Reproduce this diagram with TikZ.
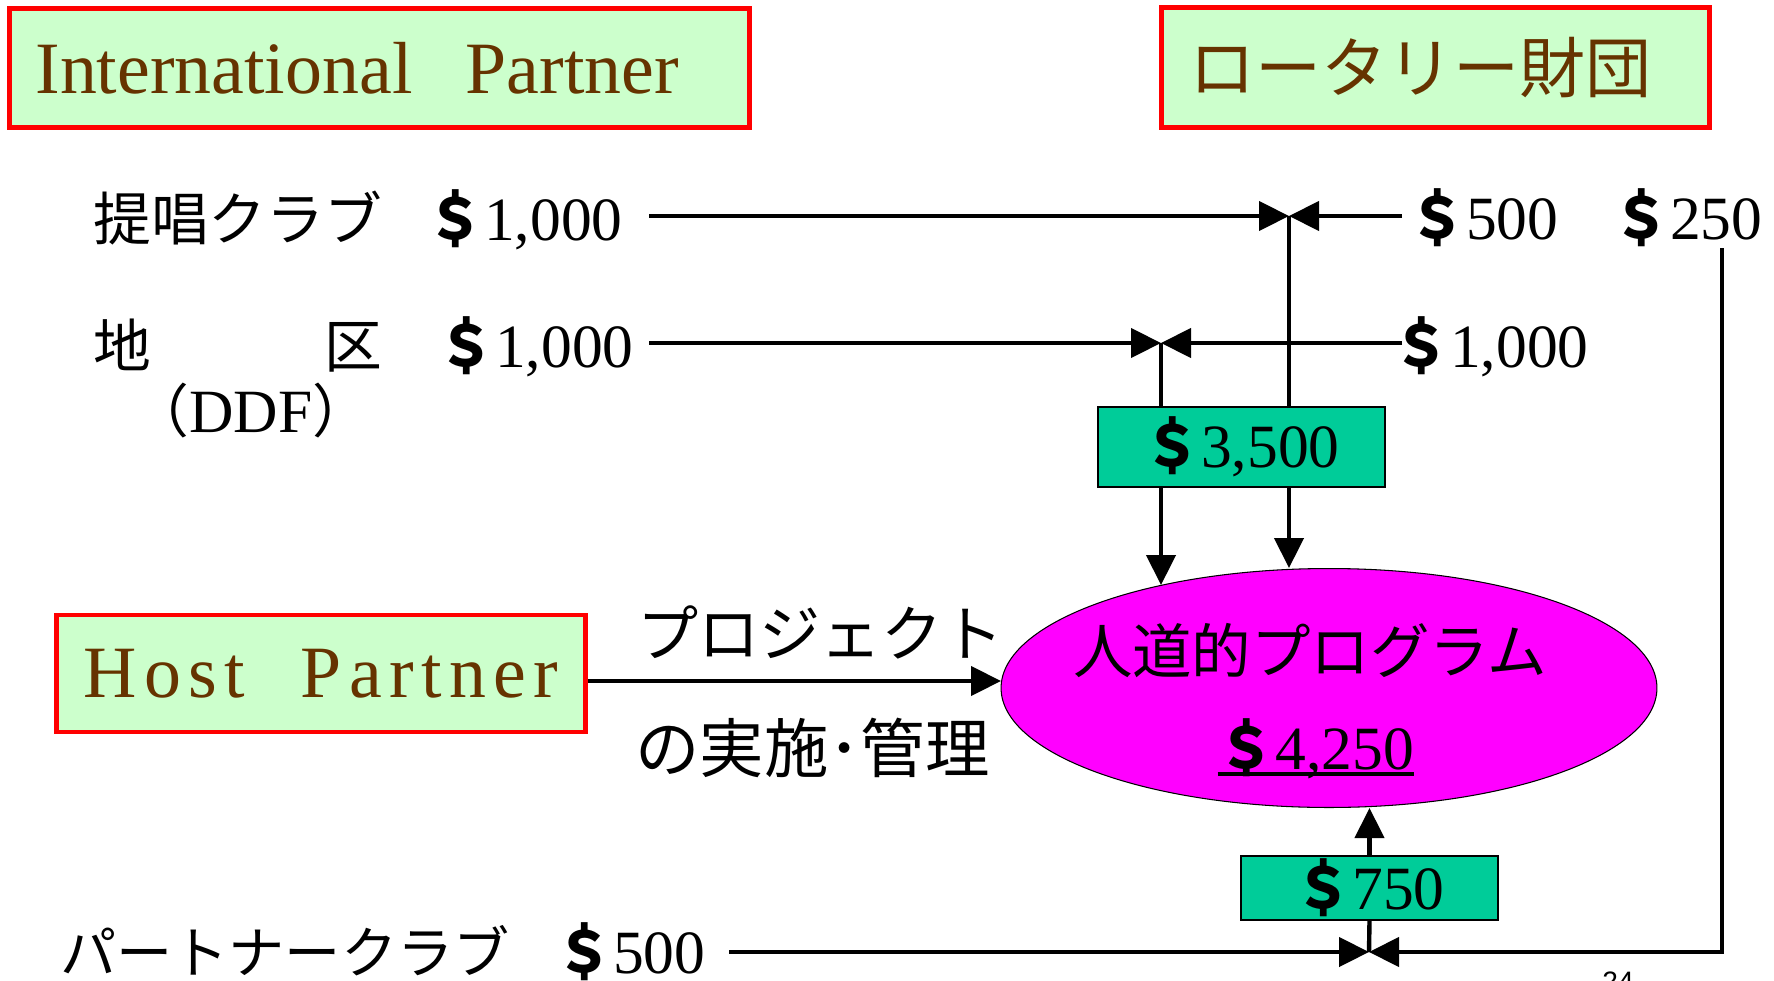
\documentclass[tikz,border=0pt]{standalone}
\usepackage{fontspec}
\setmainfont{Liberation Serif}
\newfontfamily\jp{Noto Sans CJK JP}[Scale=0.94]
\newfontfamily\pgsans{Liberation Sans}
\usepackage{tikz}
\usetikzlibrary{arrows.meta}
\usetikzlibrary{shapes,shapes.geometric}
\definecolor{partnergreen}{HTML}{CCFFCC}
\definecolor{partnerbrown}{HTML}{663300}
\definecolor{fundgreen}{HTML}{00CC99}
\definecolor{progmagenta}{RGB}{255,0,255}
\newcommand{\usd}[1]{{\jp\bfseries ＄}#1}

\begin{document}
\begin{tikzpicture}[x=0.02cm,y=-0.02cm,
	partnerbox/.style={draw=red,line width=2.8pt,fill=partnergreen,text=partnerbrown,inner sep=0pt,font=\fontsize{42}{48}\selectfont},
	fundbox/.style={draw=black,line width=0.8pt,fill=fundgreen,inner sep=0pt,font=\fontsize{35}{42}\selectfont},
	lbl/.style={inner sep=0pt,anchor=base west,font=\fontsize{35}{42}\selectfont},
	wire/.style={line width=2.5pt},
	flow/.style={wire,-{Triangle[length=0.6cm,width=0.58cm]}}]
				\useasboundingbox (0,0) rectangle (1774,980);
				\node[partnerbox,anchor=north west,minimum width=14.8cm,minimum height=2.38cm,text width=13.76cm,align=left] (intl) at (7,6) {International\hspace{0.72em}Partner};
				\node[partnerbox,anchor=north west,minimum width=10.96cm,minimum height=2.4cm,text width=9.84cm,align=left] (rotary) at (1159,5) {\fontsize{40}{48}\selectfont\jp ロータリー財団};
				\node[partnerbox,minimum width=10.6cm,minimum height=2.34cm] (host) at (321,673.5) {\addfontfeatures{LetterSpace=10}Host\hspace{0.75em}Partner};
				\node[lbl] (teisho) at (93,240) {\jp 提唱クラブ};
				\node[lbl] (teishoamt) at (426,240) {\usd{1,000}};
				\node[lbl] (chiku) at (93,367) {\jp 地　　　区};
				\node[lbl] (chikuamt) at (437,367) {\usd{1,000}};
				\node[lbl,anchor=base] (ddf) at (251,432) {{\jp （}DDF{\jp ）}};
				\node[lbl] (zaidanA) at (1408,239) {\usd{500}};
				\node[lbl] (zaidanB) at (1612,239) {\usd{250}};
				\node[lbl] (zaidanC) at (1392,367) {\usd{1,000}};
				\node[lbl,font=\fontsize{37}{42}\selectfont] (proj) at (637,656) {\jp プロジェクト};
				\node[lbl,font=\fontsize{39}{42}\selectfont] (kanri) at (635,772) {\jp の実施･管理};
				\node[lbl,font=\fontsize{34}{42}\selectfont] (pclub) at (60,973) {\jp パートナークラブ};
				\node[lbl] (pclubamt) at (555,973) {\usd{500}};
				\node[draw,ellipse,fill=progmagenta,line width=0.6pt,minimum width=13.12cm,minimum height=4.78cm,inner sep=0pt] (prog) at (1329,688) {};
				\node[lbl,anchor=base,font=\fontsize{36}{42}\selectfont] (progname) at (1310,673) {\jp 人道的プログラム};
				\node[lbl,anchor=base] (progamt) at (1316,769) {\usd{4,250}};
				\draw[line width=2.2pt] ([yshift=-0.1cm]progamt.base west) -- ([yshift=-0.1cm]progamt.base east);
				\node[fundbox,minimum width=5.74cm,minimum height=1.6cm] (sum) at (1241.5,447) {\usd{3,500}};
				\node[fundbox,minimum width=5.14cm,minimum height=1.28cm] (pc) at (1369.5,888) {\usd{750}};
				\node[inner sep=0pt,anchor=north west,font=\fontsize{16}{19}\selectfont\pgsans] (pagenum) at (1602,972) {24};
				\coordinate (s1) at (649,216);
				\coordinate (j1) at (1289,216);
				\coordinate (e1) at (1402,216);
				\coordinate (s2) at (649,343);
				\coordinate (j2) at (1161,343);
				\coordinate (e2) at (1402,343);
				\coordinate (t1) at (1289,568);
				\coordinate (t2) at (1161,585);
				\coordinate (h) at (1001,681);
				\coordinate (s3) at (729,952);
				\coordinate (j3) at (1369,952);
				\coordinate (k0) at (1722,248);
				\coordinate (k1) at (1722,952);
				\draw[flow] (s1) -- (j1);
				\draw[flow] (e1) -- (j1);
				\draw[wire] (j1) -- (j1 |- sum.north);
				\draw[flow] (sum.south -| j1) -- (t1);
				\draw[flow] (s2) -- (j2);
				\draw[flow] (e2) -- (j2);
				\draw[wire] (j2) -- (j2 |- sum.north);
				\draw[flow] (sum.south -| j2) -- (t2);
				\draw[flow] (h -| host.east) -- (h);
				\draw[flow] (s3) -- (j3);
				\draw[flow] (k0) -- (k1) -- (j3);
				\draw[wire] (j3) -- (pc.south);
				\draw[flow] (pc.north) -- (pc.north |- prog.south);
			\end{tikzpicture}
\end{document}
